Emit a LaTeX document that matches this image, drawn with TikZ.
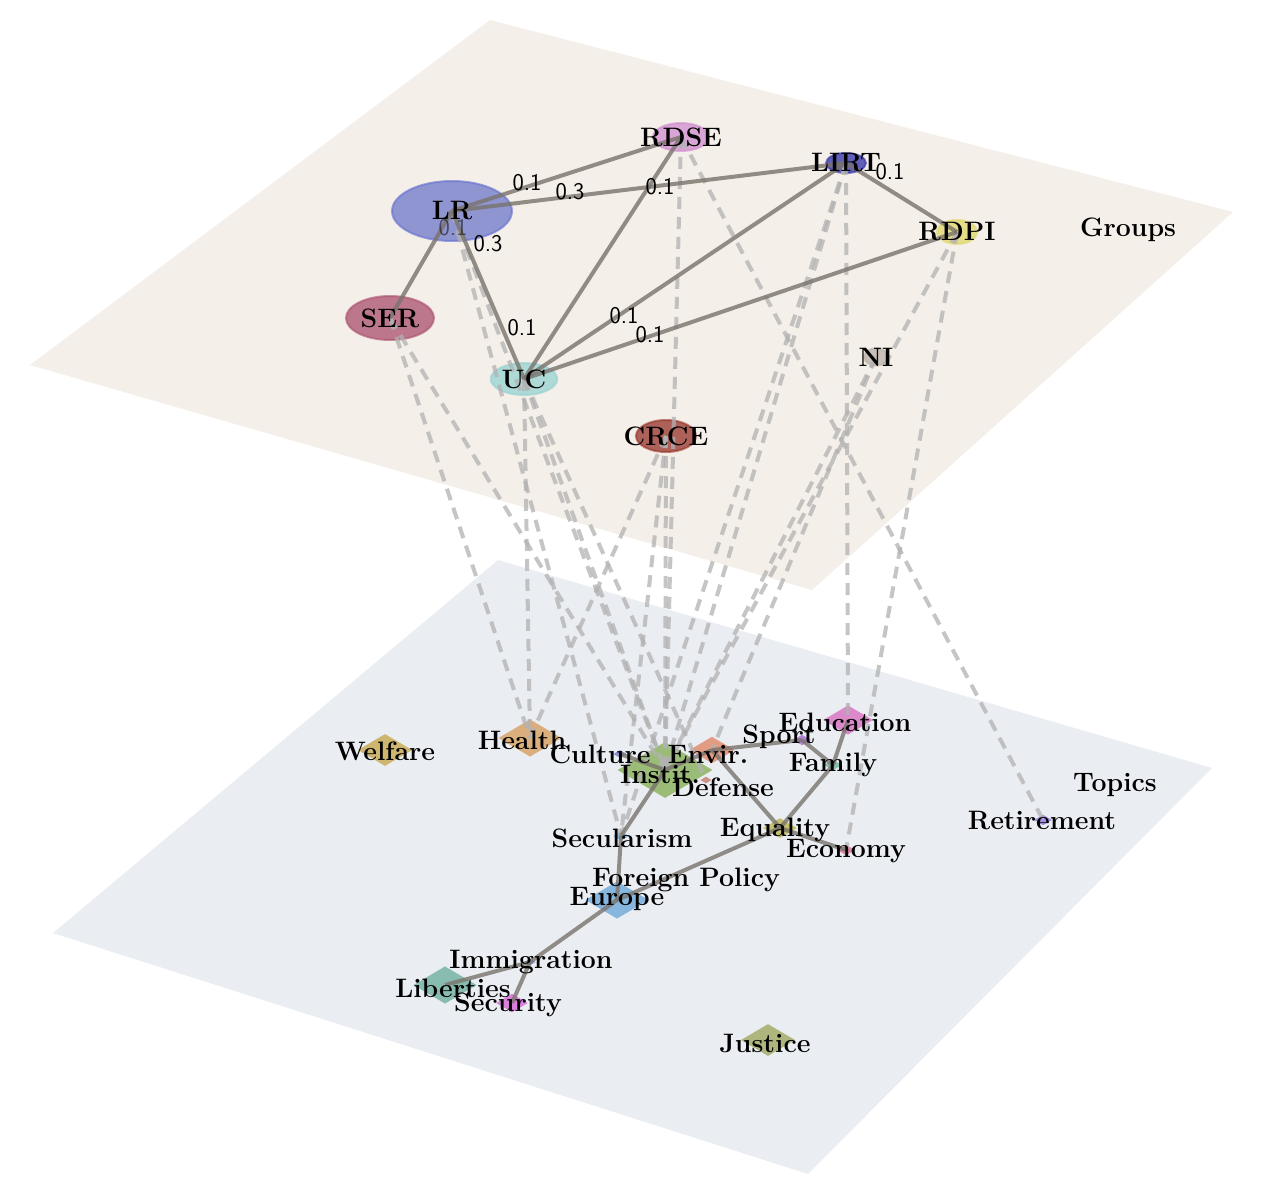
\documentclass[tikz,border=0pt]{standalone}
\usetikzlibrary{shapes.geometric}
\begin{document}
\begin{tikzpicture}[x=0.75pt,y=-0.75pt,
  lbl/.style={font=\fontsize{20}{22}\selectfont\bfseries, inner sep=0},
  grp/.style={ellipse, draw, line width=1.5pt, fill opacity=0.75, draw opacity=0.6, inner sep=0},
  top/.style={diamond, fill opacity=0.8, inner sep=0, xscale=1.7},
  sedge/.style={draw=black!50!brown!20!gray, line width=3pt, opacity=0.8},
  dedge/.style={draw=gray!60, line width=3pt, dashed, dash pattern=on 9pt off 6pt, opacity=0.75},
  wt/.style={font=\sffamily\fontsize{18}{20}\selectfont, inner sep=0}]
\useasboundingbox (0,0) rectangle (1269,1184);
\fill[fill={rgb,255:red,244;green,239;blue,232}] (490,20) -- (1233,212) -- (812,590) -- (30,365) -- cycle;
\fill[fill={rgb,255:red,234;green,237;blue,242}] (498,560) -- (1212,768) -- (808,1174) -- (53,933) -- cycle;
% group nodes
\node[grp, fill={rgb,255:red,110;green,120;blue,200}, draw={rgb,255:red,100;green,110;blue,210}, minimum width=90pt, minimum height=45pt] (LR) at (452,211) {};
\node[grp, fill={rgb,255:red,208;green,140;blue,208}, draw={rgb,255:red,208;green,140;blue,208}, minimum width=42pt, minimum height=21pt] (RDSE) at (681,137) {};
\node[grp, fill={rgb,255:red,48;green,48;blue,168}, draw={rgb,255:red,48;green,48;blue,168}, minimum width=30pt, minimum height=15pt] (LIRT) at (846,163) {};
\node[grp, fill={rgb,255:red,224;green,216;blue,104}, draw={rgb,255:red,224;green,216;blue,104}, minimum width=30pt, minimum height=18pt] (RDPI) at (957,232) {};
\node[grp, fill={rgb,255:red,170;green,80;blue,110}, draw={rgb,255:red,170;green,80;blue,110}, minimum width=66pt, minimum height=33pt] (SER) at (390,318) {};
\node[grp, fill={rgb,255:red,150;green,210;blue,210}, draw={rgb,255:red,150;green,210;blue,210}, minimum width=50pt, minimum height=24pt] (UC) at (524,379) {};
\node[grp, fill={rgb,255:red,184;green,176;blue,168}, draw={rgb,255:red,184;green,176;blue,168}, minimum width=18pt, minimum height=13pt] (NI) at (876,357) {};
\node[grp, fill={rgb,255:red,150;green,50;blue,40}, draw={rgb,255:red,150;green,50;blue,40}, minimum width=45pt, minimum height=24pt] (CRCE) at (666,436) {};
% topic nodes
\node[top, fill={rgb,255:red,200;green,168;blue,80}, minimum size=24pt] (Welfare) at (385,750) {};
\node[top, fill={rgb,255:red,216;green,160;blue,96}, minimum size=28pt] (Health) at (530,738) {};
\node[top, fill={rgb,255:red,136;green,176;blue,88}, minimum size=42pt] (Instit) at (665,770) {};
\node[top, fill={rgb,255:red,224;green,136;blue,104}, minimum size=20pt] (Envir) at (712,750) {};
\node[top, fill={rgb,255:red,120;green,120;blue,200}, minimum size=6pt] (Culture) at (620,754) {};
\node[top, fill={rgb,255:red,170;green,110;blue,210}, minimum size=8pt] (Sport) at (802,740) {};
\node[top, fill={rgb,255:red,216;green,112;blue,192}, minimum size=22pt] (Education) at (848,720) {};
\node[top, fill={rgb,255:red,110;green,180;blue,160}, minimum size=8pt] (Family) at (833,765) {};
\node[top, fill={rgb,255:red,200;green,120;blue,100}, minimum size=5pt] (Defense) at (706,780) {};
\node[top, fill={rgb,255:red,190;green,180;blue,80}, minimum size=15pt] (Equality) at (780,828) {};
\node[top, fill={rgb,255:red,220;green,110;blue,150}, minimum size=8pt] (Economy) at (846,850) {};
\node[top, fill={rgb,255:red,110;green,170;blue,220}, minimum size=7pt] (Secularism) at (621,836) {};
\node[top, fill={rgb,255:red,110;green,168;blue,216}, minimum size=28pt] (Europe) at (617,900) {};
\node[top, fill={rgb,255:red,110;green,130;blue,200}, minimum size=5pt] (Immigration) at (530,962) {};
\node[top, fill={rgb,255:red,112;green,176;blue,160}, minimum size=28pt] (Liberties) at (445,985) {};
\node[top, fill={rgb,255:red,216;green,100;blue,216}, minimum size=14pt] (Security) at (512,1003) {};
\node[top, fill={rgb,255:red,160;green,168;blue,96}, minimum size=24pt] (Justice) at (768,1040) {};
\node[top, fill={rgb,255:red,150;green,120;blue,230}, minimum size=8pt] (Retirement) at (1043,820) {};
% dashed inter-layer edges
\foreach \a/\b in {SER/Health,SER/Instit,LR/Instit,LR/Secularism,UC/Health,UC/Instit,UC/Defense,RDSE/Instit,RDSE/Retirement,LIRT/Secularism,LIRT/Instit,LIRT/Education,RDPI/Instit,RDPI/Economy,NI/Instit,NI/Envir,CRCE/Health,CRCE/Instit,CRCE/Secularism}
  \draw[dedge] (\a.center) -- (\b.center);
% solid group edges
\foreach \a/\b in {LR/RDSE,LR/LIRT,RDSE/UC,LIRT/RDPI,LR/SER,LR/UC,LIRT/UC,RDPI/UC}
  \draw[sedge] (\a.center) -- (\b.center);
% solid topic edges
\foreach \a/\b in {Culture/Instit,Instit/Envir,Envir/Sport,Sport/Family,Education/Family,Family/Equality,Envir/Equality,Equality/Economy,Instit/Secularism,Secularism/Europe,Europe/Equality,Europe/Immigration,Immigration/Liberties,Immigration/Security}
  \draw[sedge] (\a.center) -- (\b.center);
% weight labels
\node[wt] (w1) at (527,183) {0.1};
\node[wt] (w2) at (570,192) {0.3};
\node[wt] (w3) at (660,187) {0.1};
\node[wt] (w4) at (890,172) {0.1};
\node[wt, opacity=0.5] (w5) at (453,228) {0.1};
\node[wt] (w6) at (488,244) {0.3};
\node[wt] (w7) at (522,328) {0.1};
\node[wt] (w8) at (624,316) {0.1};
\node[wt] (w9) at (650,335) {0.1};
% group labels
\node[lbl] at (LR) {LR};
\node[lbl] at (RDSE) {RDSE};
\node[lbl] at (LIRT) {LIRT};
\node[lbl] at (RDPI) {RDPI};
\node[lbl] at (SER) {SER};
\node[lbl] at (UC) {UC};
\node[lbl] at (NI) {NI};
\node[lbl] at (CRCE) {CRCE};
\node[lbl] (glabel) at (1128,230) {Groups};
% topic labels
\node[lbl] at (385,751) {Welfare};
\node[lbl] at (522,740) {Health};
\node[lbl] at (600,754) {Culture};
\node[lbl] at (708,754) {Envir.};
\node[lbl] at (660,774) {Instit.};
\node[lbl] at (779,737) {Sport};
\node[lbl] at (845,722) {Education};
\node[lbl] at (833,765) {Family};
\node[lbl] at (723,787) {Defense};
\node[lbl] at (622,838) {Secularism};
\node[lbl] at (775,830) {Equality};
\node[lbl] at (846,851) {Economy};
\node[lbl] at (686,880) {Foreign Policy};
\node[lbl] at (617,899) {Europe};
\node[lbl] at (531,962) {Immigration};
\node[lbl] at (453,988) {Liberties};
\node[lbl] at (508,1005) {Security};
\node[lbl] at (765,1043) {Justice};
\node[lbl] at (1042,821) {Retirement};
\node[lbl] (tlabel) at (1115,785) {Topics};
\end{tikzpicture}
\end{document}
